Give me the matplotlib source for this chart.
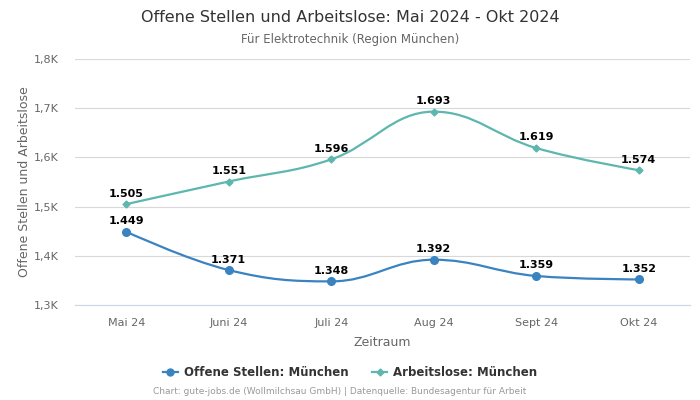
import numpy as np
import matplotlib
matplotlib.use('Agg')
import matplotlib.pyplot as plt
from matplotlib.path import Path
from matplotlib.patches import PathPatch
from matplotlib.lines import Line2D

months = ['Mai 24', 'Juni 24', 'Juli 24', 'Aug 24', 'Sept 24', 'Okt 24']
offene = [1449, 1371, 1348, 1392, 1359, 1352]
arbeitslose = [1505, 1551, 1596, 1693, 1619, 1574]
yticks = [1300, 1400, 1500, 1600, 1700, 1800]

blue = '#3a83c1'
teal = '#5db7ae'


def spline_path(xs, ys, smoothing=1.5):
    # Highcharts-style spline control points
    n = len(xs)
    left = [None] * n
    right = [None] * n
    denom = smoothing + 1
    for i in range(1, n - 1):
        px, py = xs[i], ys[i]
        lx, ly = xs[i - 1], ys[i - 1]
        nx, ny = xs[i + 1], ys[i + 1]
        lcx = (smoothing * px + lx) / denom
        lcy = (smoothing * py + ly) / denom
        rcx = (smoothing * px + nx) / denom
        rcy = (smoothing * py + ny) / denom
        if rcx != lcx:
            corr = (rcy - lcy) * (rcx - px) / (rcx - lcx) + py - rcy
            lcy += corr
            rcy += corr
        if lcy > ly and lcy > py:
            lcy = max(ly, py)
            rcy = 2 * py - lcy
        elif lcy < ly and lcy < py:
            lcy = min(ly, py)
            rcy = 2 * py - lcy
        if rcy > ny and rcy > py:
            rcy = max(ny, py)
            lcy = 2 * py - rcy
        elif rcy < ny and rcy < py:
            rcy = min(ny, py)
            lcy = 2 * py - rcy
        left[i] = (lcx, lcy)
        right[i] = (rcx, rcy)
    verts = [(xs[0], ys[0])]
    codes = [Path.MOVETO]
    for i in range(1, n):
        c1 = right[i - 1] if right[i - 1] else (xs[i - 1], ys[i - 1])
        c2 = left[i] if left[i] else (xs[i], ys[i])
        verts += [c1, c2, (xs[i], ys[i])]
        codes += [Path.CURVE4] * 3
    return Path(verts, codes)


def fmt(v):
    return f'{v:,}'.replace(',', '.')


fig = plt.figure(figsize=(7, 4), dpi=100)
ax = fig.add_axes([75 / 700, 95 / 400, 615 / 700, 246 / 400])

x = np.arange(len(months))
for vals, color, marker, ms in [(offene, blue, 'o', 5.5), (arbeitslose, teal, 'D', 3.5)]:
    ax.add_patch(PathPatch(spline_path(x, vals), fill=False, edgecolor=color, lw=1.6, zorder=3))
    ax.plot(x, vals, ls='none', marker=marker, ms=ms, color=color, zorder=4)
    for xi, v in zip(x, vals):
        ax.annotate(fmt(v), (xi, v), xytext=(0, 4), textcoords='offset points',
                    ha='center', va='bottom', fontsize=8, fontweight='bold', color='black')

ax.set_xlim(-0.5, len(months) - 0.5)
ax.set_ylim(1300, 1800)
ax.set_yticks(yticks)
ax.set_yticklabels([f'{t / 1000:.1f}K'.replace('.', ',') for t in yticks])
ax.set_xticks(x)
ax.set_xticklabels(months)
ax.tick_params(axis='both', length=0, labelsize=8, colors='#666666')
ax.tick_params(axis='x', pad=9)
ax.tick_params(axis='y', pad=12)
ax.grid(axis='y', color='#d8d8d8', lw=0.8)
ax.set_axisbelow(True)
for s in ['top', 'right', 'left']:
    ax.spines[s].set_visible(False)
ax.spines['bottom'].set_color('#ccd6eb')
ax.set_xlabel('Zeitraum', fontsize=9, color='#666666', labelpad=6)
ax.set_ylabel('Offene Stellen und Arbeitslose', fontsize=9, color='#666666', labelpad=2)

fig.text(0.5, 1 - 17 / 400, 'Offene Stellen und Arbeitslose: Mai 2024 - Okt 2024',
         ha='center', va='center', fontsize=11.5, color='#333333')
fig.text(0.5, 1 - 39 / 400, 'Für Elektrotechnik (Region München)',
         ha='center', va='center', fontsize=8.5, color='#666666')

handles = [Line2D([], [], color=blue, marker='o', ms=5, lw=1.6),
           Line2D([], [], color=teal, marker='D', ms=3.5, lw=1.6)]
leg = fig.legend(handles, ['Offene Stellen: München', 'Arbeitslose: München'],
                 loc='center', bbox_to_anchor=(0.5, 1 - 373 / 400), ncol=2, frameon=False,
                 prop={'size': 8.5, 'weight': 'bold'}, handlelength=1.3, columnspacing=2.0,
                 handletextpad=0.5)
for t in leg.get_texts():
    t.set_color('#333333')

fig.text(340 / 700, 1 - 392 / 400, 'Chart: gute-jobs.de (Wollmilchsau GmbH) | Datenquelle: Bundesagentur für Arbeit',
         ha='center', va='center', fontsize=6.45, color='#999999')

fig.savefig('out.png', dpi=100)
